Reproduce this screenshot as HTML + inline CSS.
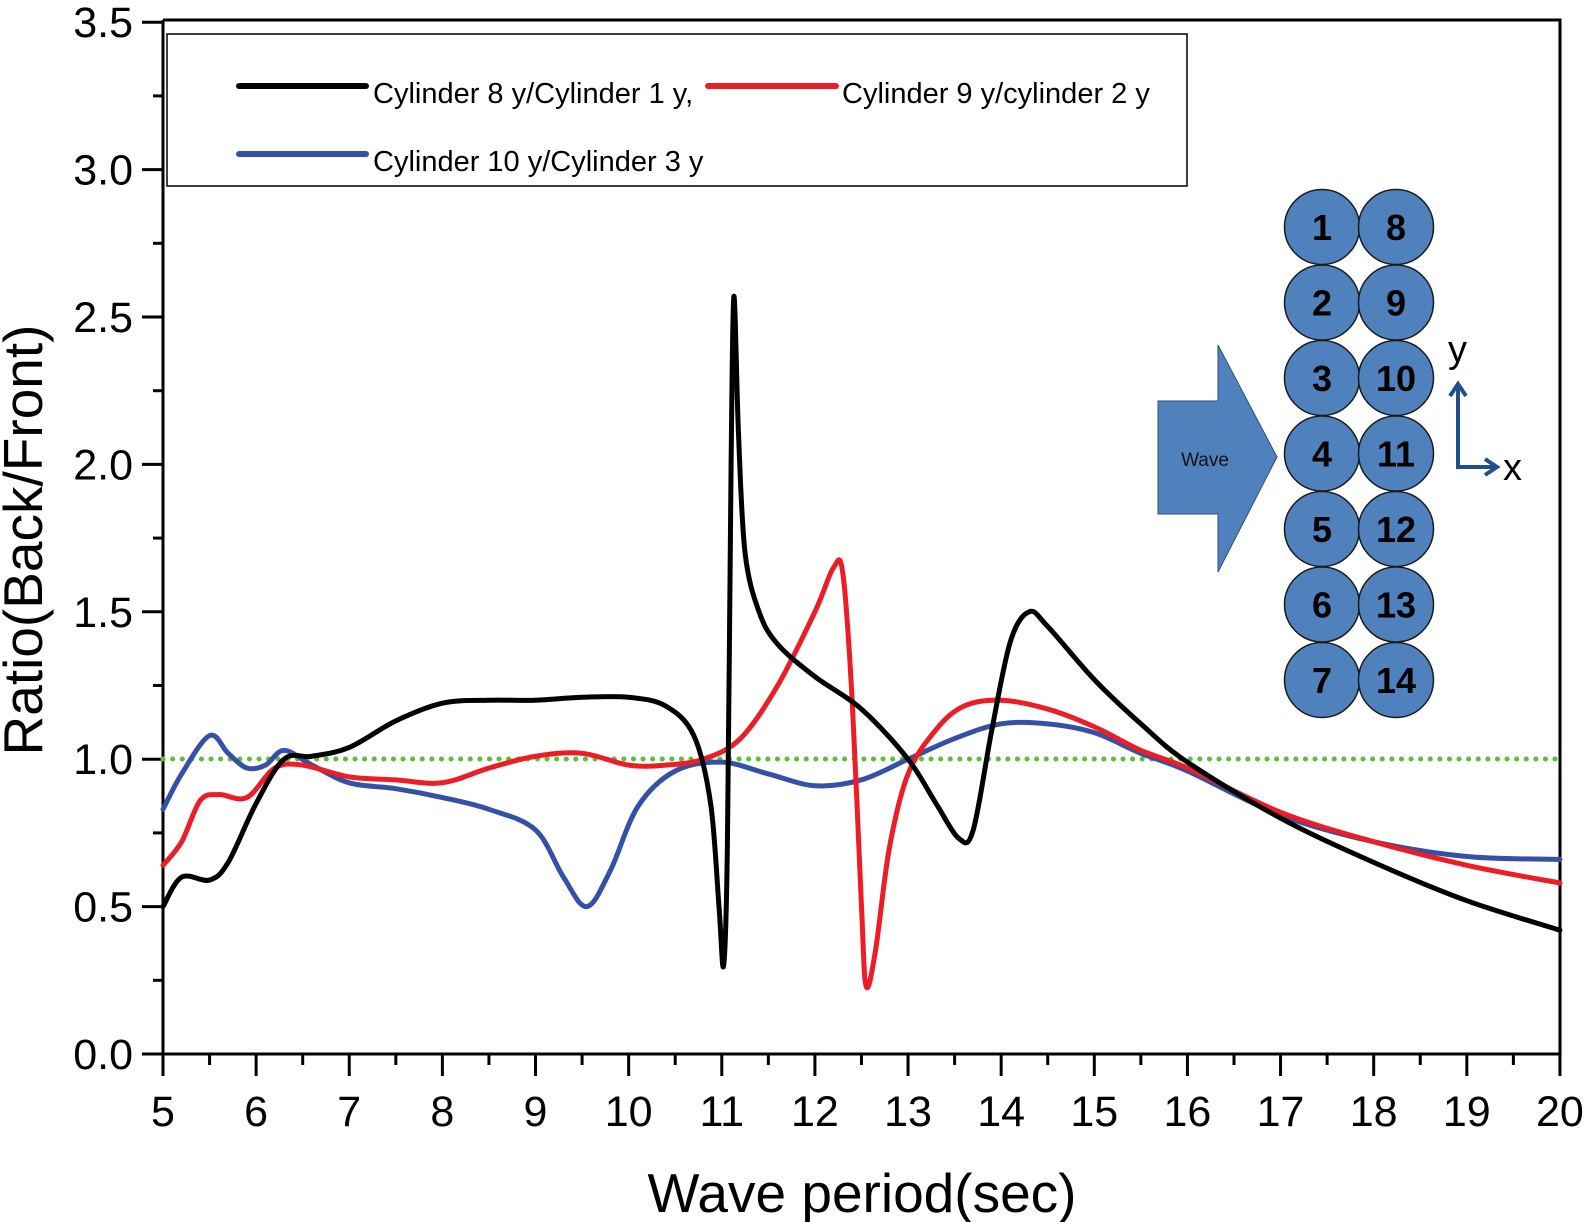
<!DOCTYPE html>
<html><head><meta charset="utf-8"><style>
html,body{margin:0;padding:0;background:#fff}
svg{display:block;font-family:"Liberation Sans",sans-serif}
</style></head><body>
<svg id="s" width="1584" height="1222" viewBox="0 0 1584 1222" xmlns="http://www.w3.org/2000/svg">
<rect width="1584" height="1222" fill="#fff"/>
<g id="ax" stroke="#000" stroke-width="3" fill="none"></g>
<g id="lab" font-size="43" fill="#000"></g>
<line x1="163" y1="759" x2="1560" y2="759" stroke="#5cbf3a" stroke-width="5" stroke-dasharray="0.1 9.5" stroke-linecap="round"/>
<g id="curves" fill="none" stroke-width="5" stroke-linejoin="round" stroke-linecap="round"></g>
<!-- legend -->
<rect x="167" y="34" width="1020" height="152" fill="#fff" stroke="#000" stroke-width="1.5"/>
<line x1="239" y1="86" x2="366" y2="86" stroke="#000" stroke-width="6" stroke-linecap="round"/>
<text x="373" y="103" font-size="29">Cylinder 8 y/Cylinder 1 y,</text>
<line x1="708" y1="86" x2="836" y2="86" stroke="#ee1c24" stroke-width="6" stroke-linecap="round"/>
<text x="842" y="103" font-size="29">Cylinder 9 y/cylinder 2 y</text>
<line x1="239" y1="154" x2="366" y2="154" stroke="#3450a8" stroke-width="6" stroke-linecap="round"/>
<text x="373" y="171" font-size="29">Cylinder 10 y/Cylinder 3 y</text>
<!-- diagram -->
<polygon points="1158,401 1218,401 1218,345 1277,457 1218,572 1218,514 1158,514" fill="#4f81bd" stroke="#2f4f7f" stroke-width="1"/>
<text x="1205" y="466" font-size="19" text-anchor="middle" fill="#111">Wave</text>
<g id="circ"></g>
<g stroke="#1f4e8c" stroke-width="4" fill="none">
<polyline points="1458,384 1458,467 1495,467"/>
<polyline points="1450,396 1458,384 1466,396"/>
<polyline points="1485,459 1497,467 1485,475"/>
</g>
<text x="1448" y="362" font-size="38">y</text>
<text x="1503" y="480" font-size="38">x</text>
<text x="862" y="1212" font-size="55" text-anchor="middle">Wave period(sec)</text>
<text transform="translate(42,540) rotate(-90)" font-size="55" text-anchor="middle">Ratio(Back/Front)</text>
</svg>
<script>
const NS="http://www.w3.org/2000/svg";
const X=t=>163+(t-5)*93.13, Y=v=>1054-v*294.8;
function el(tag,attrs,parent,txt){const e=document.createElementNS(NS,tag);for(const k in attrs)e.setAttribute(k,attrs[k]);if(txt!==undefined)e.textContent=txt;parent.appendChild(e);return e;}
const ax=document.getElementById('ax'),lab=document.getElementById('lab');
el('polyline',{points:`163,20 1560,20 1560,1054 163,1054 163,20`},ax);
for(let t=5;t<=20.001;t+=0.5){const maj=Math.abs(t-Math.round(t))<1e-6;el('line',{x1:X(t),y1:1054,x2:X(t),y2:1054+(maj?22:11)},ax);
 if(maj)el('text',{x:X(t),y:1126,'text-anchor':'middle'},lab,String(Math.round(t)));}
for(let v=0;v<=3.5001;v+=0.25){const maj=Math.abs(v*2-Math.round(v*2))<1e-6;el('line',{x1:163,y1:Y(v),x2:163-(maj?21:10),y2:Y(v)},ax);
 if(maj)el('text',{x:133,y:Y(v)+15,'text-anchor':'end'},lab,v.toFixed(1));}
const data={
"#000":[[5,0.5],[5.2,0.6],[5.5,0.59],[5.7,0.65],[6,0.85],[6.3,1.0],[6.6,1.01],[7,1.04],[7.5,1.13],[8,1.19],[8.5,1.2],[9,1.2],[9.5,1.21],[10,1.21],[10.4,1.18],[10.7,1.08],[10.88,0.85],[10.97,0.5],[11.02,0.3],[11.06,0.7],[11.1,2.0],[11.13,2.57],[11.18,2.1],[11.25,1.7],[11.4,1.5],[11.6,1.39],[12,1.28],[12.5,1.17],[13,1.0],[13.3,0.85],[13.55,0.73],[13.7,0.76],[13.9,1.1],[14.1,1.4],[14.3,1.5],[14.5,1.45],[15,1.27],[15.5,1.12],[16,0.99],[17,0.8],[18,0.65],[19,0.52],[20,0.42]],
"#ee1c24":[[5,0.64],[5.2,0.72],[5.4,0.86],[5.6,0.88],[5.9,0.87],[6.2,0.97],[6.5,0.98],[7,0.94],[7.5,0.93],[8,0.92],[8.5,0.97],[9,1.01],[9.5,1.02],[10,0.98],[10.4,0.98],[10.8,1.0],[11.2,1.07],[11.6,1.25],[12,1.5],[12.2,1.65],[12.3,1.63],[12.4,1.2],[12.5,0.5],[12.55,0.23],[12.65,0.35],[12.8,0.7],[13,0.95],[13.3,1.1],[13.6,1.18],[14,1.2],[14.5,1.17],[15,1.11],[15.5,1.03],[16,0.97],[17,0.82],[18,0.72],[19,0.64],[20,0.58]],
"#3450a8":[[5,0.83],[5.2,0.95],[5.5,1.08],[5.7,1.02],[5.9,0.97],[6.1,0.98],[6.3,1.03],[6.6,0.98],[7,0.92],[7.5,0.9],[8,0.87],[8.5,0.83],[9,0.76],[9.3,0.6],[9.55,0.5],[9.8,0.62],[10.1,0.84],[10.5,0.96],[11,0.99],[11.5,0.95],[12,0.91],[12.5,0.93],[13,1.0],[13.5,1.07],[14,1.12],[14.5,1.12],[15,1.09],[15.5,1.02],[16,0.96],[17,0.81],[18,0.72],[19,0.67],[20,0.66]]};
const cg=document.getElementById('curves');
for(const c of ["#3450a8","#ee1c24","#000"]){const p=data[c].map(([t,v])=>[X(t),Y(v)]);let d=`M${p[0][0]},${p[0][1]}`;
 for(let i=0;i<p.length-1;i++){const p0=p[Math.max(0,i-1)],p1=p[i],p2=p[i+1],p3=p[Math.min(p.length-1,i+2)];
  const k=1/6;d+=` C${p1[0]+(p2[0]-p0[0])*k},${p1[1]+(p2[1]-p0[1])*k} ${p2[0]-(p3[0]-p1[0])*k},${p2[1]-(p3[1]-p1[1])*k} ${p2[0]},${p2[1]}`;}
 el('path',{d,stroke:c},cg);}
const cc=document.getElementById('circ');
for(let r=0;r<7;r++){const y=227+r*75.5;[[1322,r+1],[1396,r+8]].forEach(([x,n])=>{el('circle',{cx:x,cy:y,r:37.5,fill:'#4f81bd',stroke:'#1a1a1a','stroke-width':1.5},cc);
 el('text',{x:x,y:y+13,'font-size':36,'font-weight':'bold','text-anchor':'middle',fill:'#000'},cc,String(n));});}
</script>
</body></html>
